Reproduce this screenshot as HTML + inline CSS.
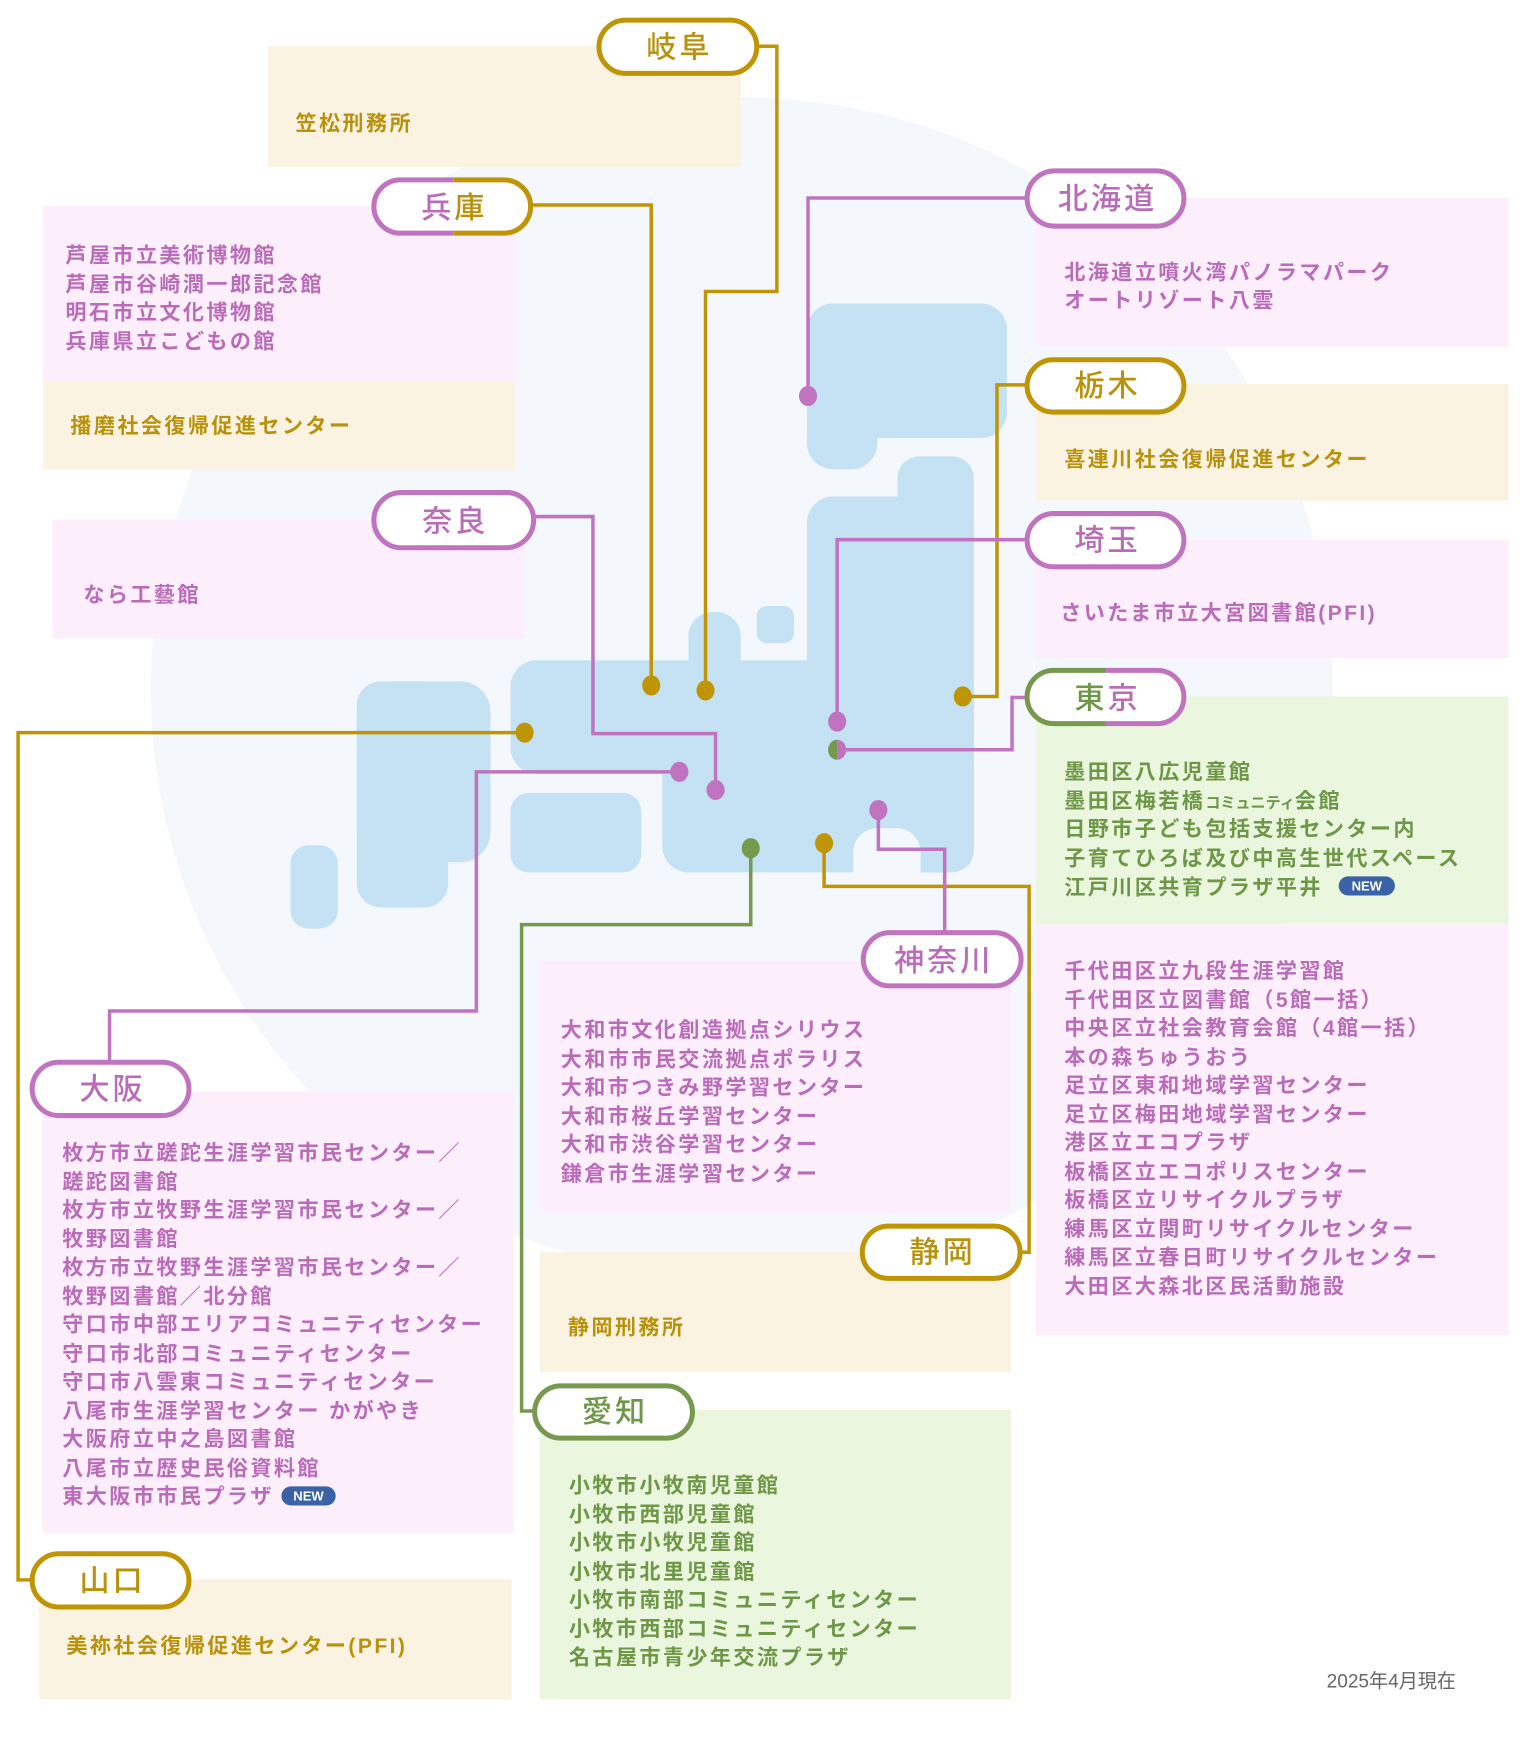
<!DOCTYPE html>
<html><head><meta charset="utf-8"><style>
html,body{margin:0;padding:0;background:#fff;}
svg{display:block;}
text{font-family:"Liberation Sans","Noto Sans CJK JP",sans-serif;}
.t{font-size:21px;letter-spacing:2.4px;font-weight:700;}
.p{font-size:30px;letter-spacing:3px;text-anchor:middle;font-weight:500;}
.pu{fill:#b96db9;} .go{fill:#b8920c;} .gr{fill:#6f9748;}
</style></head><body>
<svg width="1529" height="1741" viewBox="0 0 1529 1741" xmlns="http://www.w3.org/2000/svg">
<defs>
<clipPath id="lh"><rect x="0" y="0" width="451" height="300"/></clipPath>
<clipPath id="rh"><rect x="451" y="0" width="200" height="300"/></clipPath>
<clipPath id="lt"><rect x="1000" y="600" width="100" height="200"/></clipPath>
<clipPath id="rt"><rect x="1100" y="600" width="200" height="200"/></clipPath>
<clipPath id="ld"><rect x="820" y="730" width="13" height="30"/></clipPath>
<clipPath id="rd"><rect x="833" y="730" width="20" height="30"/></clipPath>
</defs>
<g transform="scale(1.005)">
<circle cx="738" cy="685" r="588" fill="#f4f8fc"/>
<rect x="267" y="46" width="470" height="120" fill="#faf3e2"/>
<rect x="43" y="205" width="470" height="175" fill="#fdeefc"/>
<rect x="43" y="380" width="470" height="87" fill="#faf3e2"/>
<rect x="52" y="517" width="470" height="118" fill="#fdeefc"/>
<rect x="1031" y="197" width="470" height="148" fill="#fdeefc"/>
<rect x="1031" y="382" width="470" height="116" fill="#faf3e2"/>
<rect x="1031" y="537" width="470" height="118" fill="#fdeefc"/>
<rect x="1031" y="693" width="470" height="226" fill="#ebf6de"/>
<rect x="1031" y="919" width="470" height="410" fill="#fdeefc"/>
<rect x="42" y="1086" width="469" height="439" fill="#fdeefc"/>
<rect x="39" y="1571" width="470" height="120" fill="#faf3e2"/>
<rect x="537" y="956" width="469" height="251" fill="#fdeefc"/>
<rect x="537" y="1246" width="469" height="119" fill="#faf3e2"/>
<rect x="537" y="1403" width="469" height="288" fill="#ebf6de"/>
<g fill="#c4e2f3">
<rect x="803" y="302" width="199" height="134" rx="26"/>
<rect x="803" y="302" width="70" height="165" rx="26"/>
<rect x="893" y="454" width="76" height="414" rx="22"/>
<rect x="803" y="494" width="166" height="374" rx="26"/>
<rect x="508" y="657" width="461" height="113" rx="26"/>
<rect x="659" y="700" width="310" height="168" rx="26"/>
<rect x="685" y="609" width="52" height="70" rx="24"/>
<rect x="753" y="603" width="37" height="37" rx="10"/>
<rect x="508" y="789" width="130" height="79" rx="18"/>
<rect x="355" y="678" width="133" height="180" rx="30"/>
<rect x="355" y="678" width="91" height="225" rx="24"/>
<rect x="289" y="841" width="47" height="83" rx="18"/>
</g>
<path d="M849 870 V848 a24 24 0 0 1 24 -24 h19 a24 24 0 0 1 24 24 V870 Z" fill="#f4f8fc"/>
<g fill="none" stroke-width="3.5">
<polyline points="755,46 773,46 773,290 702,290 702,687" stroke="#c09505"/>
<polyline points="530,204 648,204 648,682" stroke="#c09505"/>
<polyline points="533,514 590,514 590,730 712,730 712,786" stroke="#c074c0"/>
<polyline points="1020,197 804,197 804,394" stroke="#c074c0"/>
<polyline points="1020,383 992,383 992,693 958,693" stroke="#c09505"/>
<polyline points="1020,537 833,537 833,718" stroke="#c074c0"/>
<polyline points="1020,694 1007,694 1007,746 833,746" stroke="#c074c0"/>
<polyline points="522,729 18,729 18,1572 30,1572" stroke="#c09505"/>
<polyline points="676,768 474,768 474,1006 109,1006 109,1055" stroke="#c074c0"/>
<polyline points="747,844 747,920 519,920 519,1404 530,1404" stroke="#76994e"/>
<polyline points="820,839 820,882 1024,882 1024,1246 1017,1246" stroke="#c09505"/>
<polyline points="874,806 874,845 940,845 940,926" stroke="#c074c0"/>
</g>
<g>
<ellipse cx="702" cy="687" rx="9" ry="10" fill="#c09505"/>
<ellipse cx="648" cy="682" rx="9" ry="10" fill="#c09505"/>
<ellipse cx="712" cy="786" rx="9" ry="10" fill="#c074c0"/>
<ellipse cx="804" cy="394" rx="9" ry="10" fill="#c074c0"/>
<ellipse cx="958" cy="693" rx="9" ry="10" fill="#c09505"/>
<ellipse cx="833" cy="718" rx="9" ry="10" fill="#c074c0"/>
<ellipse cx="833" cy="746" rx="9" ry="10" fill="#76994e" clip-path="url(#ld)"/>
<ellipse cx="833" cy="746" rx="9" ry="10" fill="#c074c0" clip-path="url(#rd)"/>
<ellipse cx="522" cy="729" rx="9" ry="10" fill="#c09505"/>
<ellipse cx="676" cy="768" rx="9" ry="10" fill="#c074c0"/>
<ellipse cx="747" cy="844" rx="9" ry="10" fill="#76994e"/>
<ellipse cx="820" cy="839" rx="9" ry="10" fill="#c09505"/>
<ellipse cx="874" cy="806" rx="9" ry="10" fill="#c074c0"/>
</g>
<g fill="#fff" stroke-width="5">
<rect x="596" y="20" width="157" height="53" rx="26.5" stroke="#c09505"/>
<rect x="372" y="179" width="156" height="53" rx="26.5" stroke="#c074c0" clip-path="url(#lh)"/>
<rect x="372" y="179" width="156" height="53" rx="26.5" stroke="#c09505" clip-path="url(#rh)"/>
<rect x="372" y="490" width="159" height="55" rx="27.5" stroke="#c074c0"/>
<rect x="1022" y="170" width="156" height="55" rx="27.5" stroke="#c074c0"/>
<rect x="1022" y="358" width="156" height="52" rx="26" stroke="#c09505"/>
<rect x="1022" y="511" width="156" height="53" rx="26.5" stroke="#c074c0"/>
<rect x="1022" y="667" width="156" height="53" rx="26.5" stroke="#76994e" clip-path="url(#lt)"/>
<rect x="1022" y="667" width="156" height="53" rx="26.5" stroke="#c074c0" clip-path="url(#rt)"/>
<rect x="32" y="1057" width="156" height="53" rx="26.5" stroke="#c074c0"/>
<rect x="32" y="1546" width="156" height="53" rx="26.5" stroke="#c09505"/>
<rect x="532" y="1379" width="157" height="52" rx="26" stroke="#76994e"/>
<rect x="858" y="1220" width="157" height="52" rx="26" stroke="#c09505"/>
<rect x="859" y="928" width="157" height="53" rx="26.5" stroke="#c074c0"/>
</g>
<text class="p go" x="676" y="57">岐阜</text>
<text class="p pu" x="452" y="217"><tspan class="pu">兵</tspan><tspan class="go">庫</tspan></text>
<text class="p pu" x="453" y="529">奈良</text>
<text class="p pu" x="1102" y="208">北海道</text>
<text class="p go" x="1102" y="394">栃木</text>
<text class="p pu" x="1102" y="548">埼玉</text>
<text class="p" x="1102" y="705"><tspan class="gr">東</tspan><tspan class="pu">京</tspan></text>
<text class="p pu" x="112" y="1094">大阪</text>
<text class="p go" x="112" y="1583">山口</text>
<text class="p gr" x="612" y="1415">愛知</text>
<text class="p go" x="938" y="1256">静岡</text>
<text class="p pu" x="939" y="966">神奈川</text>
<text class="t go" x="294" y="130">笠松刑務所</text>
<g class="t pu">
<text x="65" y="261">芦屋市立美術博物館</text>
<text x="65" y="290">芦屋市谷崎潤一郎記念館</text>
<text x="65" y="318">明石市立文化博物館</text>
<text x="65" y="347">兵庫県立こどもの館</text>
</g>
<text class="t go" x="70" y="431">播磨社会復帰促進センター</text>
<text class="t pu" x="83" y="599">なら工藝館</text>
<text class="t pu" x="1059" y="278">北海道立噴火湾パノラマパーク</text>
<text class="t pu" x="1059" y="306">オートリゾート八雲</text>
<text class="t go" x="1059" y="464">喜連川社会復帰促進センター</text>
<text class="t pu" x="1055" y="617">さいたま市立大宮図書館(PFI)</text>
<g class="t gr">
<text x="1059" y="775">墨田区八広児童館</text>
<text x="1059" y="804">墨田区梅若橋<tspan style="font-size:15px;letter-spacing:0">コミュニティ</tspan>会館</text>
<text x="1059" y="832">日野市子ども包括支援センター内</text>
<text x="1059" y="861">子育てひろば及び中高生世代スペース</text>
<text x="1059" y="890">江戸川区共育プラザ平井</text>
</g>
<rect x="1332" y="872" width="56" height="19" rx="9.5" fill="#3a62a6"/>
<text x="1360" y="886" text-anchor="middle" style="font-size:13px;font-weight:700;fill:#fff">NEW</text>
<g class="t pu">
<text x="1059" y="973">千代田区立九段生涯学習館</text>
<text x="1059" y="1002">千代田区立図書館（5館一括）</text>
<text x="1059" y="1030">中央区立社会教育会館（4館一括）</text>
<text x="1059" y="1059">本の森ちゅうおう</text>
<text x="1059" y="1087">足立区東和地域学習センター</text>
<text x="1059" y="1116">足立区梅田地域学習センター</text>
<text x="1059" y="1144">港区立エコプラザ</text>
<text x="1059" y="1173">板橋区立エコポリスセンター</text>
<text x="1059" y="1201">板橋区立リサイクルプラザ</text>
<text x="1059" y="1230">練馬区立関町リサイクルセンター</text>
<text x="1059" y="1258">練馬区立春日町リサイクルセンター</text>
<text x="1059" y="1287">大田区大森北区民活動施設</text>
</g>
<g class="t pu">
<text x="558" y="1032">大和市文化創造拠点シリウス</text>
<text x="558" y="1061">大和市市民交流拠点ポラリス</text>
<text x="558" y="1089">大和市つきみ野学習センター</text>
<text x="558" y="1118">大和市桜丘学習センター</text>
<text x="558" y="1146">大和市渋谷学習センター</text>
<text x="558" y="1175">鎌倉市生涯学習センター</text>
</g>
<text class="t go" x="565" y="1328">静岡刑務所</text>
<g class="t gr">
<text x="566" y="1485">小牧市小牧南児童館</text>
<text x="566" y="1514">小牧市西部児童館</text>
<text x="566" y="1542">小牧市小牧児童館</text>
<text x="566" y="1571">小牧市北里児童館</text>
<text x="566" y="1599">小牧市南部コミュニティセンター</text>
<text x="566" y="1628">小牧市西部コミュニティセンター</text>
<text x="566" y="1656">名古屋市青少年交流プラザ</text>
</g>
<g class="t pu">
<text x="62" y="1154">枚方市立蹉跎生涯学習市民センター／</text>
<text x="62" y="1183">蹉跎図書館</text>
<text x="62" y="1211">枚方市立牧野生涯学習市民センター／</text>
<text x="62" y="1240">牧野図書館</text>
<text x="62" y="1268">枚方市立牧野生涯学習市民センター／</text>
<text x="62" y="1297">牧野図書館／北分館</text>
<text x="62" y="1325">守口市中部エリアコミュニティセンター</text>
<text x="62" y="1354">守口市北部コミュニティセンター</text>
<text x="62" y="1382">守口市八雲東コミュニティセンター</text>
<text x="62" y="1411">八尾市生涯学習センター かがやき</text>
<text x="62" y="1439">大阪府立中之島図書館</text>
<text x="62" y="1468">八尾市立歴史民俗資料館</text>
<text x="62" y="1496">東大阪市市民プラザ</text>
</g>
<rect x="280" y="1479" width="54" height="19" rx="9.5" fill="#3a62a6"/>
<text x="307" y="1493" text-anchor="middle" style="font-size:13px;font-weight:700;fill:#fff">NEW</text>
<text class="t go" x="66" y="1645">美祢社会復帰促進センター(PFI)</text>
<text x="1320" y="1679" style="font-size:19px;fill:#666">2025年4月現在</text>
</g>
</svg>
</body></html>
